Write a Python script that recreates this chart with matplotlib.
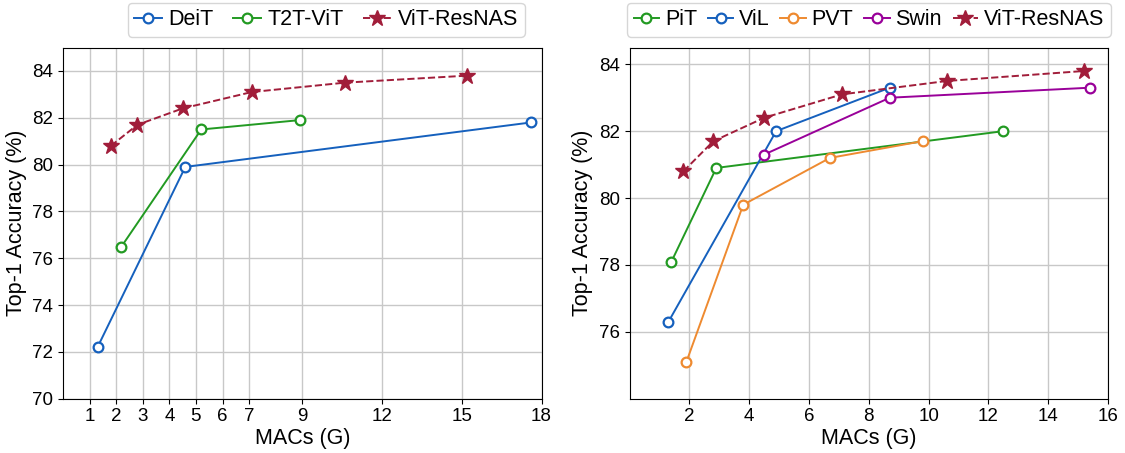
import matplotlib
matplotlib.use('Agg')
import matplotlib.pyplot as plt

plt.rcParams['font.family'] = ['Liberation Sans', 'DejaVu Sans']

# --- data: left panel ---
deit_x = [1.3, 4.6, 17.6]
deit_y = [72.2, 79.9, 81.8]
t2t_x = [2.2, 5.2, 8.9]
t2t_y = [76.5, 81.5, 81.9]

# --- data: right panel ---
pit_x = [1.4, 2.9, 12.5]
pit_y = [78.1, 80.9, 82.0]
vil_x = [1.3, 4.9, 8.7]
vil_y = [76.3, 82.0, 83.3]
pvt_x = [1.9, 3.8, 6.7, 9.8]
pvt_y = [75.1, 79.8, 81.2, 81.7]
swin_x = [4.5, 8.7, 15.4]
swin_y = [81.3, 83.0, 83.3]

# ViT-ResNAS (both panels)
resnas_x = [1.8, 2.8, 4.5, 7.1, 10.6, 15.2]
resnas_y = [80.8, 81.7, 82.4, 83.1, 83.5, 83.8]

left_xticks = [1, 2, 3, 4, 5, 6, 7, 9, 12, 15, 18]
left_yticks = [70, 72, 74, 76, 78, 80, 82, 84]
right_xticks = [2, 4, 6, 8, 10, 12, 14, 16]
right_yticks = [76, 78, 80, 82, 84]

BLUE = '#1560bd'
GREEN = '#229a22'
ORANGE = '#ee8a30'
PURPLE = '#990099'
RED = '#a11d3a'

circ = dict(marker='o', markersize=7, markerfacecolor='white',
            markeredgewidth=1.6, linewidth=1.4)
star = dict(marker='*', markersize=12, linestyle='--', linewidth=1.4,
            color=RED)

fig, (ax1, ax2) = plt.subplots(1, 2, figsize=(11.25, 4.53), dpi=100)
fig.subplots_adjust(left=0.056, right=0.985, bottom=0.12, top=0.895, wspace=0.184)

# ---------------- left ----------------
ax1.plot(deit_x, deit_y, color=BLUE, label='DeiT', **circ)
ax1.plot(t2t_x, t2t_y, color=GREEN, label='T2T-ViT', **circ)
ax1.plot(resnas_x, resnas_y, label='ViT-ResNAS', **star)
ax1.set_xlim(0, 18)
ax1.set_ylim(70, 85)
ax1.set_xticks(left_xticks)
ax1.set_yticks(left_yticks)

# ---------------- right ----------------
ax2.plot(pit_x, pit_y, color=GREEN, label='PiT', **circ)
ax2.plot(vil_x, vil_y, color=BLUE, label='ViL', **circ)
ax2.plot(pvt_x, pvt_y, color=ORANGE, label='PVT', **circ)
ax2.plot(swin_x, swin_y, color=PURPLE, label='Swin', **circ)
ax2.plot(resnas_x, resnas_y, label='ViT-ResNAS', **star)
ax2.set_xlim(0, 16)
ax2.set_ylim(74, 84.5)
ax2.set_xticks(right_xticks)
ax2.set_yticks(right_yticks)

for ax in (ax1, ax2):
    ax.grid(True, color='#c8c8c8', linewidth=1.0)
    ax.set_axisbelow(True)
    ax.tick_params(labelsize=13.5)
    ax.set_xlabel('MACs (G)', fontsize=15.5, labelpad=2)
    ax.set_ylabel('Top-1 Accuracy (%)', fontsize=15.5, labelpad=4)

ax1.legend(loc='lower center', bbox_to_anchor=(0.55, 1.0), ncol=3,
           fontsize=15.5, handlelength=1.3, handletextpad=0.3,
           columnspacing=0.9, borderpad=0.3)
ax2.legend(loc='lower center', bbox_to_anchor=(0.5, 1.0), ncol=5,
           fontsize=15.5, handlelength=1.2, handletextpad=0.25,
           columnspacing=0.5, borderpad=0.3)

fig.savefig('out.png', dpi=100)
